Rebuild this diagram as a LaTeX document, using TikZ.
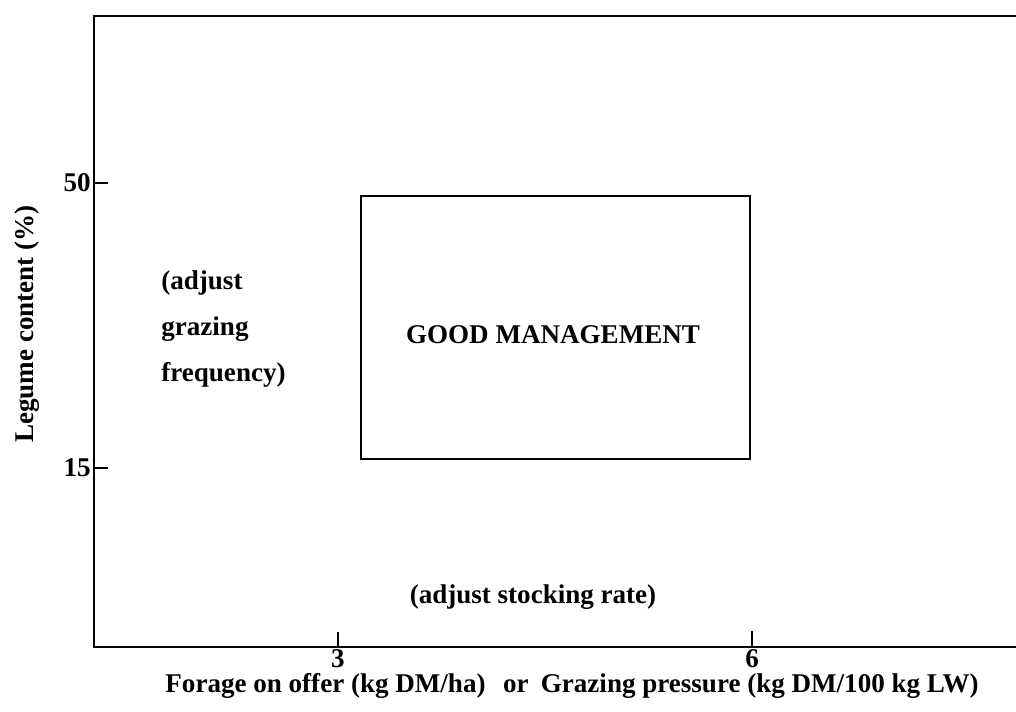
\documentclass[tikz,border=0pt]{standalone}
\usepackage{fontspec}
\setmainfont{Liberation Serif}

\begin{document}
\begin{tikzpicture}[x=0.02cm,y=-0.02cm]
	\tikzset{lbl/.style={font=\fontsize{15.4}{26.4}\selectfont\bfseries, inner sep=0pt}}
	\tikzset{axis/.style={line width=1.5pt}}
	\tikzset{box/.style={line width=1.1pt}}

	\useasboundingbox (0,0) rectangle (1016,712);

	% frame of the plot
	\coordinate (tl) at (94,16);
	\coordinate (bl) at (94,647);
	\coordinate (tr) at (1016,16);
	\coordinate (br) at (1016,647);
	\draw[axis] (tr) -- (tl) -- (bl) -- (br);

	% ticks
	\draw[axis] (94,183) -- (108,183);
	\draw[axis] (94,468) -- (108,468);
	\draw[axis] (338,647) -- (338,632);
	\draw[axis] (752,647) -- (752,631);

	\node[lbl, anchor=east] (y50) at (91,183) {50};
	\node[lbl, anchor=east] (y15) at (91,468) {15};
	\node[lbl] (x3) at (338,659) {3};
	\node[lbl] (x6) at (752,659) {6};

	% good management region
	\coordinate (gmsw) at (361,459);
	\coordinate (gmne) at (750,196);
	\draw[box] (gmsw) rectangle (gmne);
	\node[lbl] (gm) at (553,335) {GOOD MANAGEMENT};

	\node[lbl, align=left, anchor=west] (freq) at (161,329) {(adjust\\grazing\\frequency)};
	\node[lbl] (stock) at (533,597) {(adjust stocking rate)};

	% axis titles
	\node[lbl, rotate=90] (ylab) at (27,324) {Legume content (\%)};
	\node[lbl] (xlab) at (572,686) {Forage on offer (kg DM/ha)\hspace{0.65em}or\hspace{0.2em} Grazing pressure (kg DM/100 kg LW)};
\end{tikzpicture}
\end{document}
